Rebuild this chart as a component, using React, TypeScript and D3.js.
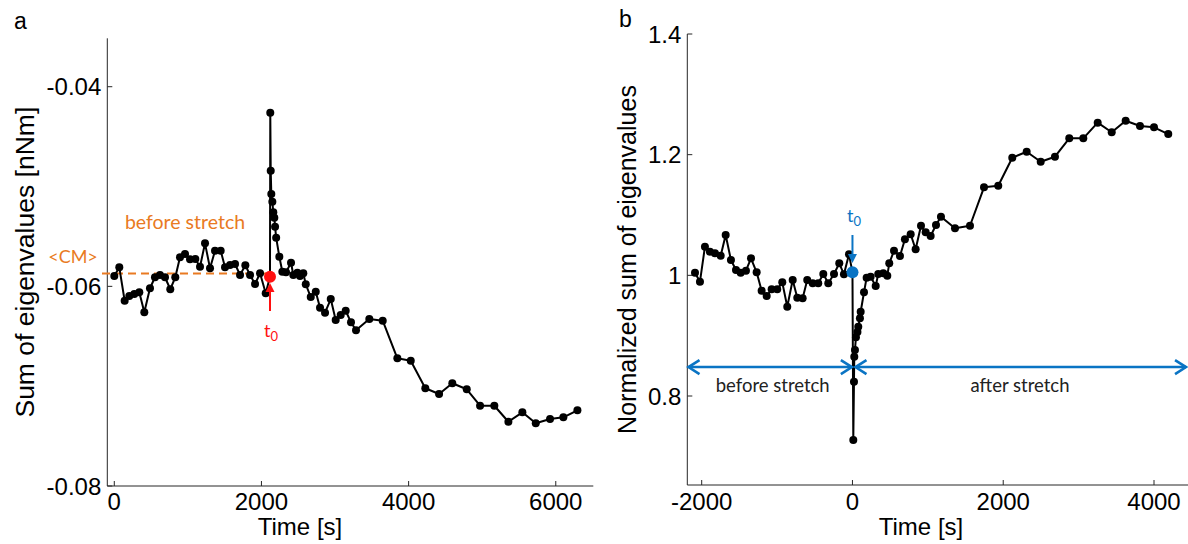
import React from "react";
import * as d3 from "d3";

// ---- Panel a data: time [s] vs sum of eigenvalues [nNm]
const aTime = [0, 68, 141, 204, 272, 340, 408, 485, 553, 621, 689, 761, 829, 893, 961, 1029, 1101, 1165, 1233, 1301, 1369, 1446, 1505, 1573, 1641, 1709, 1781, 1845, 1913, 1981, 2058, 2116, 2120, 2126, 2134, 2148, 2161, 2175, 2185, 2200, 2243, 2284, 2334, 2402, 2433, 2488, 2524, 2569, 2602, 2670, 2738, 2796, 2864, 2942, 3009, 3077, 3145, 3217, 3285, 3466, 3648, 3847, 4029, 4227, 4414, 4594, 4790, 4971, 5165, 5356, 5546, 5728, 5922, 6103, 6294];
const aValue = [-0.05896, -0.05809, -0.06144, -0.06097, -0.06077, -0.0606, -0.0626, -0.06019, -0.05909, -0.05886, -0.05909, -0.06029, -0.05909, -0.05709, -0.05676, -0.05729, -0.05726, -0.05803, -0.05569, -0.05819, -0.05643, -0.05643, -0.05809, -0.05786, -0.05776, -0.05886, -0.05789, -0.05886, -0.05976, -0.05869, -0.0607, -0.05903,
  -0.0426, -0.04841, -0.05075, -0.05152, -0.05258, -0.05312, -0.05402, -0.05512,
  -0.05703, -0.05853, -0.05859, -0.05763, -0.05886, -0.05863, -0.05896, -0.05869, -0.05979, -0.06107,
  -0.06054, -0.06214, -0.06264, -0.06127, -0.06337, -0.06287, -0.06244, -0.0636, -0.0644,
  -0.06327, -0.06344, -0.06721, -0.06745, -0.07021, -0.07078, -0.06971, -0.07031, -0.07196, -0.07196, -0.07356, -0.07262, -0.07372, -0.07329, -0.07312, -0.07242];
const aT0Index = 31;
const aCM = -0.05871;
const aXTicks = [0, 2000, 4000, 6000];
const aYTicks = [-0.08, -0.06, -0.04];
const aYTickLabels = ["-0.08", "-0.06", "-0.04"];

// ---- Panel b data: time relative to t0 vs normalized sum
const bTime = [-2089, -2023, -1957, -1891, -1824, -1748, -1682, -1612, -1545, -1483, -1413, -1346, -1271, -1205, -1138, -1072, -998, -931, -865, -793, -732, -661, -600, -528, -454, -387, -321, -245, -175, -113, -46, 0, 11, 20, 24, 33, 46, 66, 77, 99, 109, 153, 188, 241, 308, 342, 409, 462, 488, 551, 630, 696, 772, 838, 909, 971, 1037, 1108, 1174, 1360, 1559, 1745, 1934, 2120, 2311, 2497, 2686, 2876, 3062, 3253, 3439, 3624, 3814, 4000, 4189];
const bValue = [1.0043, 0.9894, 1.0474, 1.0391, 1.0365, 1.0325, 1.0668, 1.0254, 1.0088, 1.0043, 1.0077, 1.0282, 1.005, 0.9745, 0.9657, 0.9768, 0.9768, 0.9884, 0.948, 0.9922, 0.9629, 0.9619, 0.9922, 0.9868, 0.9868, 1.0022, 0.9868, 1.0022, 1.0199, 1.0017, 1.0348, 1.005,
  0.727, 0.8237, 0.8651, 0.8762, 0.8972, 0.9061, 0.9149, 0.9288, 0.9397,
  0.9719, 0.9961, 0.9978, 0.9823, 1.0022, 1.0034, 0.9994, 1.0199, 1.0408, 1.032,
  1.0597, 1.068, 1.0431, 1.0822, 1.0713, 1.0652, 1.0834, 1.0972,
  1.0779, 1.0822, 1.1459, 1.1485, 1.195, 1.2049, 1.1883, 1.1966, 1.2271, 1.2271, 1.253, 1.2371, 1.2563, 1.2475, 1.2453, 1.2342];
const bT0Index = 31;
const bXTicks = [-2000, 0, 2000, 4000];
const bYTicks = [0.8, 1, 1.2, 1.4];
const bYTickLabels = ["0.8", "1", "1.2", "1.4"];
const bArrowLevel = 0.848;
const bBeforeRange = [-2175, -8];
const bAfterRange = [40, 4425];

const ORANGE = "#E97A22";
const BLUE = "#0A74C4";
const RED = "#FF1010";
const AX = "#262626";
const FONT = "'Liberation Sans', Arial, sans-serif";
const ANN = "Lato, 'Open Sans', sans-serif";

function Chevron({ x, y, dir, color }: { x: number; y: number; dir: number; color: string }) {
  const d = `M${x - dir * 11},${y - 7} L${x},${y} L${x - dir * 11},${y + 7}`;
  return <path d={d} fill="none" stroke={color} strokeWidth={2.6} strokeLinejoin="miter" />;
}

export default function App() {
  const xa = d3.scaleLinear().domain([-95, 6510]).range([107.3, 593.3]);
  const ya = d3.scaleLinear().domain([-0.08, -0.03515]).range([486, 38.3]);
  const xb = d3.scaleLinear().domain([-2191, 4451]).range([687.3, 1188]);
  const yb = d3.scaleLinear().domain([0.6525, 1.4]).range([485, 34]);

  const aPts = aTime.map((t, i) => [xa(t), ya(aValue[i])] as [number, number]);
  const bPts = bTime.map((t, i) => [xb(t), yb(bValue[i])] as [number, number]);
  const line = d3.line();

  const aX0 = xa.range()[0], aX1 = xa.range()[1], aY0 = ya.range()[0], aY1 = ya.range()[1];
  const bX0 = xb.range()[0], bX1 = xb.range()[1], bY0 = yb.range()[0], bY1 = yb.range()[1];

  const aT0 = aPts[aT0Index];
  const bT0 = bPts[bT0Index];
  const arrowY = yb(bArrowLevel);

  return (
    <svg width={1188} height={544} style={{ position: "absolute", left: 0, top: 0, background: "#fff" }}>
      {/* Panel labels */}
      <text x={14} y={29} fontFamily={FONT} fontSize={23}>a</text>
      <text x={619} y={27} fontFamily={FONT} fontSize={23}>b</text>

      {/* ---------- Panel a ---------- */}
      <g>
        <line x1={aX0} y1={aY1} x2={aX0} y2={aY0} stroke={AX} strokeWidth={1} />
        <line x1={aX0} y1={aY0} x2={aX1} y2={aY0} stroke={AX} strokeWidth={1} />
        {aYTicks.map((v, i) => (
          <g key={"ay" + i}>
            <line x1={aX0} x2={aX0 + 5} y1={ya(v)} y2={ya(v)} stroke={AX} />
            <text x={aX0 - 6} y={ya(v) + 8.5} textAnchor="end" fontFamily={FONT} fontSize={24}>{aYTickLabels[i]}</text>
          </g>
        ))}
        {aXTicks.map((v, i) => (
          <g key={"ax" + i}>
            <line x1={xa(v)} x2={xa(v)} y1={aY0} y2={aY0 - 5} stroke={AX} />
            <text x={xa(v)} y={510} textAnchor="middle" fontFamily={FONT} fontSize={24}>{String(v)}</text>
          </g>
        ))}
        <text x={300} y={535} textAnchor="middle" fontFamily={FONT} fontSize={24}>Time [s]</text>
        <text transform={`translate(34,${(aY0 + aY1) / 2}) rotate(-90)`} textAnchor="middle" fontFamily={FONT} fontSize={26.5}>Sum of eigenvalues [nNm]</text>

        {/* CM dashed line */}
        <line x1={102} x2={aT0[0] - 2} y1={ya(aCM)} y2={ya(aCM)} stroke={ORANGE} strokeWidth={2} strokeDasharray="8,5" />
        <text x={73} y={263} textAnchor="middle" fontFamily={ANN} fontSize={18} fill={ORANGE}>&lt;CM&gt;</text>
        <text x={185} y={229} textAnchor="middle" fontFamily={ANN} fontSize={19.5} fill={ORANGE}>before stretch</text>

        <path d={line(aPts) || ""} fill="none" stroke="#000" strokeWidth={2} strokeLinejoin="round" />
        {aPts.map((p, i) => (
          <circle key={"ap" + i} cx={p[0]} cy={p[1]} r={4} fill="#000" />
        ))}
        <circle cx={aT0[0]} cy={aT0[1]} r={6} fill={RED} />
        <line x1={aT0[0]} x2={aT0[0]} y1={311} y2={290} stroke={RED} strokeWidth={2} />
        <path d={`M${aT0[0] - 4.5},${292} L${aT0[0]},${283} L${aT0[0] + 4.5},${292} Z`} fill={RED} />
        <text x={264} y={337} fontFamily={ANN} fontSize={18} fill={RED}>t<tspan fontSize={13} dy={4}>0</tspan></text>
      </g>

      {/* ---------- Panel b ---------- */}
      <g>
        <line x1={bX0} y1={bY1} x2={bX0} y2={bY0} stroke={AX} strokeWidth={1} />
        <line x1={bX0} y1={bY0} x2={bX1} y2={bY0} stroke={AX} strokeWidth={1} />
        {bYTicks.map((v, i) => (
          <g key={"by" + i}>
            <line x1={bX0} x2={bX0 + 5} y1={yb(v)} y2={yb(v)} stroke={AX} />
            <text x={bX0 - 6} y={yb(v) + 8.5} textAnchor="end" fontFamily={FONT} fontSize={24}>{bYTickLabels[i]}</text>
          </g>
        ))}
        {bXTicks.map((v, i) => (
          <g key={"bx" + i}>
            <line x1={xb(v)} x2={xb(v)} y1={bY0} y2={bY0 - 5} stroke={AX} />
            <text x={xb(v)} y={510} textAnchor="middle" fontFamily={FONT} fontSize={24}>{String(v)}</text>
          </g>
        ))}
        <text x={921} y={535} textAnchor="middle" fontFamily={FONT} fontSize={24}>Time [s]</text>
        <text transform={`translate(636,${(bY0 + bY1) / 2}) rotate(-90)`} textAnchor="middle" fontFamily={FONT} fontSize={25}>Normalized sum of eigenvalues</text>

        <path d={line(bPts) || ""} fill="none" stroke="#000" strokeWidth={2} strokeLinejoin="round" />
        {bPts.map((p, i) => (
          <circle key={"bp" + i} cx={p[0]} cy={p[1]} r={4} fill="#000" />
        ))}
        <circle cx={bT0[0]} cy={bT0[1]} r={6} fill={BLUE} />
        <line x1={bT0[0]} x2={bT0[0]} y1={235} y2={256} stroke={BLUE} strokeWidth={2} />
        <path d={`M${bT0[0] - 4.5},${254} L${bT0[0]},${263} L${bT0[0] + 4.5},${254} Z`} fill={BLUE} />
        <text x={847} y={222} fontFamily={ANN} fontSize={18} fill={BLUE}>t<tspan fontSize={13} dy={4}>0</tspan></text>

        <line x1={xb(bBeforeRange[0])} x2={xb(bBeforeRange[1])} y1={arrowY} y2={arrowY} stroke={BLUE} strokeWidth={2.6} />
        <Chevron x={xb(bBeforeRange[0])} y={arrowY} dir={-1} color={BLUE} />
        <Chevron x={xb(bBeforeRange[1])} y={arrowY} dir={1} color={BLUE} />
        <line x1={xb(bAfterRange[0])} x2={xb(bAfterRange[1])} y1={arrowY} y2={arrowY} stroke={BLUE} strokeWidth={2.6} />
        <Chevron x={xb(bAfterRange[0])} y={arrowY} dir={-1} color={BLUE} />
        <Chevron x={xb(bAfterRange[1])} y={arrowY} dir={1} color={BLUE} />
        <text x={xb(-1058)} y={392} textAnchor="middle" fontFamily={ANN} fontSize={18.5} fill="#222">before stretch</text>
        <text x={xb(2222)} y={392} textAnchor="middle" fontFamily={ANN} fontSize={18.5} fill="#222">after stretch</text>
      </g>
    </svg>
  );
}
